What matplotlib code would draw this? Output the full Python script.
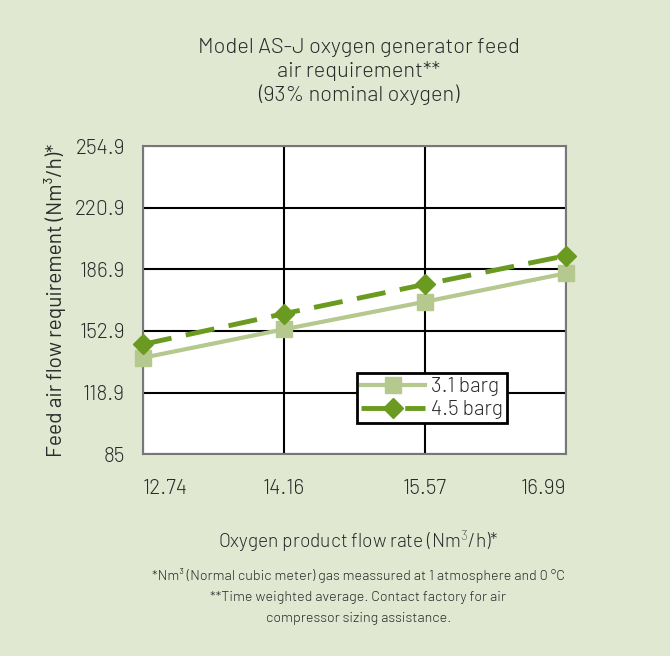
import matplotlib
matplotlib.use('Agg')
import matplotlib.pyplot as plt

flow = ['12.74', '14.16', '15.57', '16.99']
air_31 = [138.1, 153.8, 169.0, 184.7]
air_45 = [145.5, 162.4, 178.6, 194.4]
yticks = [85, 118.9, 152.9, 186.9, 220.9, 254.9]
ytick_labels = ['85', '118.9', '152.9', '186.9', '220.9', '254.9']

plt.rcParams['font.family'] = ['Barlow', 'DejaVu Sans']
plt.rcParams['font.weight'] = 300
plt.rcParams['mathtext.fontset'] = 'custom'
plt.rcParams['mathtext.rm'] = 'Barlow:light'
txt = '#2b2b2b'
bg = '#e1e8d2'
light = '#b5c98e'
dark = '#6a9a1f'

fig = plt.figure(figsize=(6.7, 6.56), dpi=100)
fig.patch.set_facecolor(bg)
ax = fig.add_axes([0.2134, 0.3079, 0.6313, 0.4695])
ax.set_facecolor('white')

x = list(range(len(flow)))
ax.plot(x, air_31, color=light, lw=3, marker='s', ms=12, label='3.1 barg',
        clip_on=False, zorder=3)
ax.plot(x, air_45, color=dark, lw=3.5, ls=(0, (6, 3)), marker='D', ms=10,
        label='4.5 barg', clip_on=False, zorder=4)

ax.set_xlim(0, 3)
ax.set_ylim(85, 254.9)
ax.set_yticks(yticks)
ax.set_yticklabels(ytick_labels)
ax.set_xticks(x)
ax.set_xticklabels(flow)
lbls = ax.get_xticklabels()
lbls[0].set_ha('left')
lbls[-1].set_ha('right')
ax.tick_params(length=0, labelsize=15, colors=txt, pad=18)
ax.tick_params(axis='y', pad=13)
ax.grid(True, color='black', lw=1.5)
for s in ax.spines.values():
    s.set_color('#777777')
    s.set_linewidth(1.5)

ax.set_ylabel('Feed air flow requirement (Nm³/h)*', fontsize=15, color=txt, labelpad=6)

leg = ax.legend(loc='lower left', bbox_to_anchor=(0.505, 0.1), fontsize=15,
                frameon=True, fancybox=False, borderpad=0.2, handlelength=3.1,
                handletextpad=0.25, labelspacing=0.2, borderaxespad=0)
leg.get_frame().set_edgecolor('black')
leg.get_frame().set_linewidth(2)
leg.get_frame().set_alpha(1)
for t in leg.get_texts():
    t.set_color(txt)

fig.text(0.535, 0.942, 'Model AS-J oxygen generator feed\nair requirement**\n(93% nominal oxygen)',
         ha='center', va='top', fontsize=15.7, color=txt, linespacing=1.22)
fig.text(0.535, 0.175, 'Oxygen product flow rate (Nm$^3$/h)*', ha='center', va='center',
         fontsize=13.8, color=txt)
fig.text(0.535, 0.134, '*Nm³ (Normal cubic meter) gas meassured at 1 atmosphere and 0 °C\n'
         '**Time weighted average. Contact factory for air\ncompressor sizing assistance.',
         ha='center', va='top', fontsize=10.3, color=txt, linespacing=1.8)

fig.savefig('out.png', dpi=100, facecolor=bg)
